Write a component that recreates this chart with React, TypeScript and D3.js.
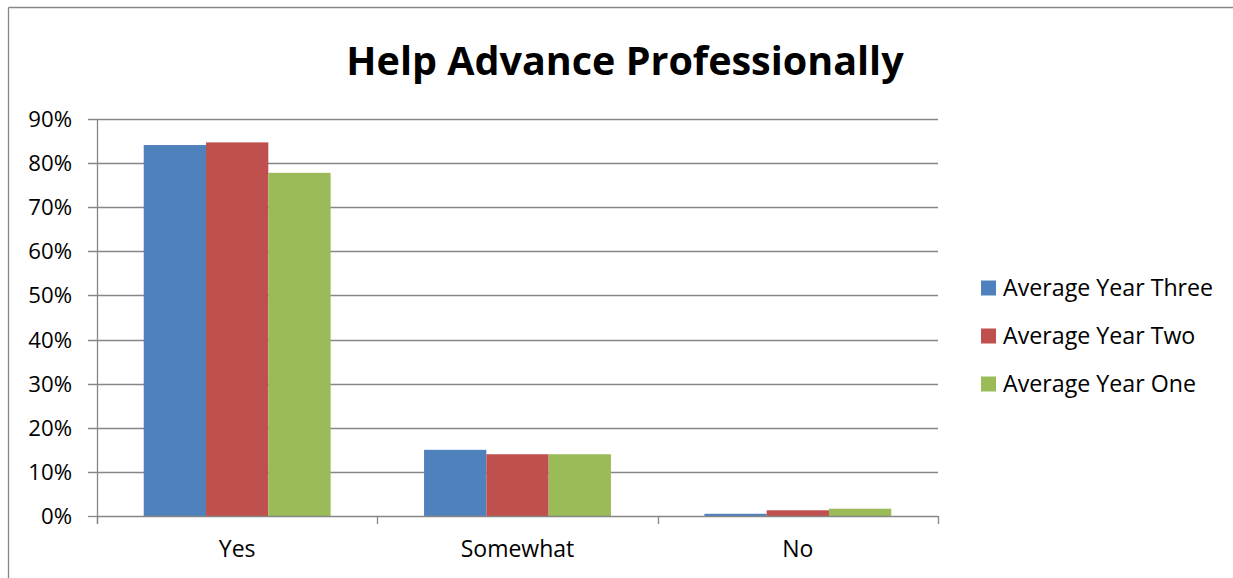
import React from "react";
import * as d3 from "d3";

const categories = ["Yes", "Somewhat", "No"];
const seriesNames = ["Average Year Three", "Average Year Two", "Average Year One"];
const yearThree = [0.841, 0.15, 0.005];
const yearTwo = [0.847, 0.14, 0.013];
const yearOne = [0.778, 0.14, 0.0165];
const seriesColors = ["#4F81BD", "#C0504D", "#9BBB59"];
const yTicks = [0, 0.1, 0.2, 0.3, 0.4, 0.5, 0.6, 0.7, 0.8, 0.9];

const W = 1233;
const H = 578;
const plot = { left: 97, right: 938, top: 119, bottom: 516 };
const FONT = "'Open Sans', 'Noto Sans', sans-serif";
const GRID = "#868686";

export default function App() {
  const seriesValues = [yearThree, yearTwo, yearOne];

  const x = d3
    .scaleBand<string>()
    .domain(categories)
    .range([plot.left, plot.right])
    .paddingInner(0)
    .paddingOuter(0);

  const xInner = d3
    .scaleBand<string>()
    .domain(seriesNames)
    .range([0, x.bandwidth()])
    .paddingInner(0)
    .paddingOuter(0.75);

  const y = d3.scaleLinear().domain([0, 0.9]).range([plot.bottom, plot.top]);
  const pct = d3.format(".0%");

  const boundaries = [...categories.map((c) => x(c) as number), plot.right];

  return (
    <svg
      width={W}
      height={H}
      style={{ position: "absolute", left: 0, top: 0, background: "#fff", overflow: "hidden" }}
      fontFamily={FONT}
    >
      {/* chart area border: only the left and top edges fall inside the view */}
      <line x1={8.5} x2={8.5} y1={7.5} y2={H} stroke={GRID} strokeWidth={1.3} />
      <line x1={8.5} x2={W} y1={7.5} y2={7.5} stroke={GRID} strokeWidth={1.3} />

      <text
        x={625}
        y={75}
        textAnchor="middle"
        fontSize={39.5}
        fontWeight="bold"
        fill="#000"
      >
        Help Advance Professionally
      </text>

      {/* gridlines and y ticks */}
      {yTicks.map((t) => (
        <g key={t}>
          <line
            x1={plot.left - 9}
            x2={t === 0 ? plot.left : plot.right}
            y1={Math.round(y(t)) + 0.5}
            y2={Math.round(y(t)) + 0.5}
            stroke={GRID}
            strokeWidth={1.3}
          />
          <text
            x={72}
            y={y(t)}
            dy="0.36em"
            textAnchor="end"
            fontSize={22.2}
            fill="#000"
          >
            {pct(t)}
          </text>
        </g>
      ))}

      {/* bars */}
      {seriesNames.map((name, si) => (
        <g key={name} fill={seriesColors[si]}>
          {categories.map((c, ci) => {
            const v = seriesValues[si][ci];
            const bx = (x(c) as number) + (xInner(name) as number);
            return (
              <rect
                key={c}
                x={bx}
                y={y(v)}
                width={xInner.bandwidth()}
                height={plot.bottom - y(v)}
              />
            );
          })}
        </g>
      ))}

      {/* axes */}
      <line
        x1={plot.left + 0.5}
        x2={plot.left + 0.5}
        y1={plot.top}
        y2={plot.bottom + 8}
        stroke={GRID}
        strokeWidth={1.3}
      />
      <line
        x1={plot.left}
        x2={plot.right}
        y1={plot.bottom + 0.5}
        y2={plot.bottom + 0.5}
        stroke={GRID}
        strokeWidth={1.3}
      />
      {boundaries.map((bx, i) => (
        <line
          key={i}
          x1={Math.round(bx) + 0.5}
          x2={Math.round(bx) + 0.5}
          y1={plot.bottom}
          y2={plot.bottom + 8}
          stroke={GRID}
          strokeWidth={1.3}
        />
      ))}
      {categories.map((c) => (
        <text
          key={c}
          x={(x(c) as number) + x.bandwidth() / 2}
          y={557}
          textAnchor="middle"
          fontSize={23}
          fill="#000"
        >
          {c}
        </text>
      ))}

      {/* legend */}
      {seriesNames.map((name, i) => {
        const cy = 288 + i * 48;
        return (
          <g key={name}>
            <rect x={981} y={cy - 7.5} width={15} height={15} fill={seriesColors[i]} />
            <text x={1003} y={cy} dy="0.36em" fontSize={23.2} fill="#000">
              {name}
            </text>
          </g>
        );
      })}
    </svg>
  );
}
